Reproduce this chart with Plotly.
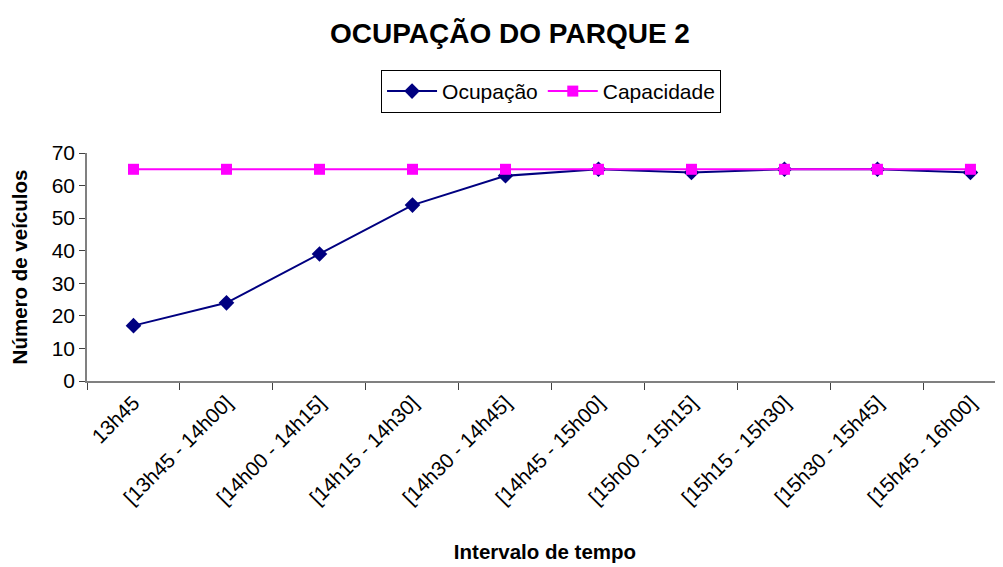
import plotly.graph_objects as go

categories = ["13h45", "[13h45 - 14h00]", "[14h00 - 14h15]", "[14h15 - 14h30]",
              "[14h30 - 14h45]", "[14h45 - 15h00]", "[15h00 - 15h15]",
              "[15h15 - 15h30]", "[15h30 - 15h45]", "[15h45 - 16h00]"]
ocupacao = [17, 24, 39, 54, 63, 65, 64, 65, 65, 64]
capacidade = [65, 65, 65, 65, 65, 65, 65, 65, 65, 65]
y_ticks = [0, 10, 20, 30, 40, 50, 60, 70]

FONT = "Liberation Sans, Arial, sans-serif"

fig = go.Figure()
fig.add_trace(go.Scatter(x=categories, y=ocupacao, name="Ocupação", mode="lines+markers",
                         line=dict(color="#000080", width=2),
                         marker=dict(symbol="diamond", size=12, color="#000080")))
fig.add_trace(go.Scatter(x=categories, y=capacidade, name="Capacidade", mode="lines+markers",
                         line=dict(color="#FF00FF", width=2),
                         marker=dict(symbol="square", size=11, color="#FF00FF")))

fig.update_layout(
    width=995, height=559,
    margin=dict(l=79, r=0, t=145, b=186, autoexpand=False),
    paper_bgcolor="white", plot_bgcolor="white",
    font=dict(family=FONT, size=20.5, color="black"),
    title=dict(text="<b>OCUPAÇÃO DO PARQUE 2</b>", x=0.5045, xanchor="center",
               y=0.955, yanchor="middle", font=dict(size=28, family=FONT)),
    legend=dict(orientation="h", x=0.5066, xanchor="center", y=1.27, yanchor="middle",
                bordercolor="black", borderwidth=1, font=dict(size=21, family=FONT),
                itemwidth=50, traceorder="normal"),
    showlegend=True,
)
fig.update_xaxes(
    type="category", range=[-0.5, 9.35], tickson="boundaries",
    ticks="outside", ticklen=7, tickcolor="#404040", automargin=False,
    showline=True, linecolor="#808080", linewidth=1.5, showgrid=False,
    tickangle=-45, tickfont=dict(size=20.5),
    title=dict(text="<b>Intervalo de tempo</b>", font=dict(size=20.5), standoff=37),
)
fig.update_yaxes(
    range=[0, 70], tickvals=y_ticks, ticks="outside", ticklen=6, tickcolor="#404040",
    automargin=False,
    showline=True, linecolor="#808080", linewidth=1.5, showgrid=False, zeroline=False,
    tickfont=dict(size=21),
    title=dict(text="<b>Número de veículos</b>", font=dict(size=20.5), standoff=21),
)

fig.write_html("out.html")
